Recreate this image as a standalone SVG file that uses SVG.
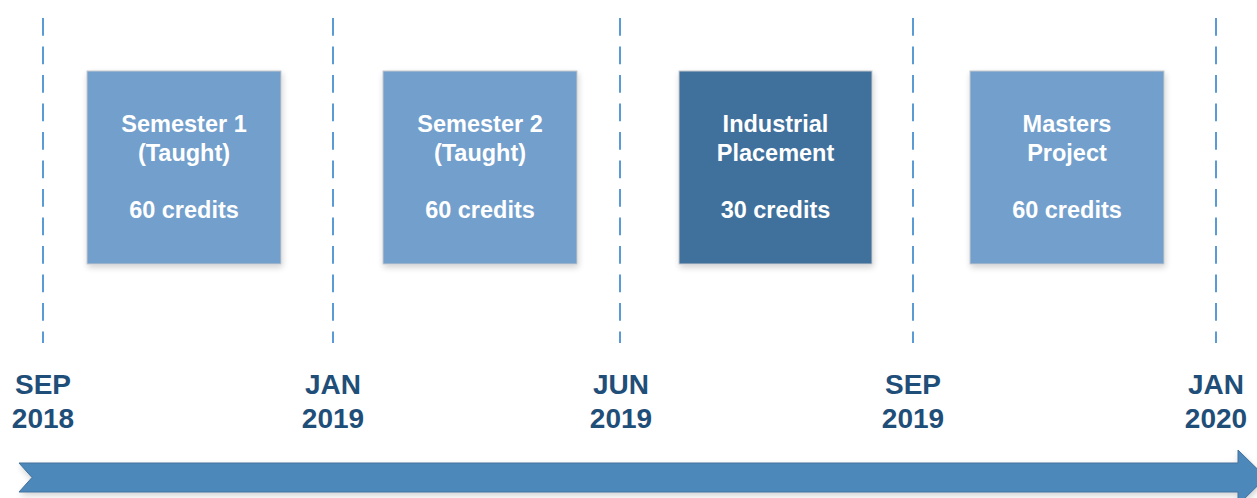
<svg xmlns="http://www.w3.org/2000/svg" width="1257" height="498" viewBox="0 0 1257 498">
<defs>
<filter id="sh" x="-10%" y="-10%" width="125%" height="125%">
<feGaussianBlur in="SourceAlpha" stdDeviation="3"/>
<feOffset dx="1" dy="3" result="b"/>
<feComponentTransfer><feFuncA type="linear" slope="0.18"/></feComponentTransfer>
<feMerge><feMergeNode/><feMergeNode in="SourceGraphic"/></feMerge>
</filter>
<style>
.dash{stroke:#5B9BD5;stroke-width:2;stroke-dasharray:17.7 10.8;fill:none}
.box{fill:#739FCC;stroke:#C4C8CC;stroke-width:1}
.dark{fill:#41709C}
.bt{font-family:"Liberation Sans",Arial,sans-serif;font-weight:bold;font-size:23.5px;fill:#FFFFFF;text-anchor:middle}
.lb{font-family:"Liberation Sans",Arial,sans-serif;font-weight:bold;font-size:28px;fill:#1F4E79;text-anchor:middle}
</style>
</defs>
<rect width="1257" height="498" fill="#FFFFFF"/>
<g id="gridlines">
<line class="dash" x1="43" y1="18" x2="43" y2="343"/>
<line class="dash" x1="333" y1="18" x2="333" y2="343"/>
<line class="dash" x1="620" y1="18" x2="620" y2="343"/>
<line class="dash" x1="913" y1="18" x2="913" y2="343"/>
<line class="dash" x1="1216" y1="18" x2="1216" y2="343"/>
</g>
<g id="sem1">
<rect class="box" x="87" y="71" width="194" height="193" filter="url(#sh)"/>
<text class="bt" x="184" y="132">Semester 1</text>
<text class="bt" x="184" y="161">(Taught)</text>
<text class="bt" x="184" y="218">60 credits</text>
</g>
<g id="sem2">
<rect class="box" x="383" y="71" width="194" height="193" filter="url(#sh)"/>
<text class="bt" x="480" y="132">Semester 2</text>
<text class="bt" x="480" y="161">(Taught)</text>
<text class="bt" x="480" y="218">60 credits</text>
</g>
<g id="placement">
<rect class="box dark" x="679" y="71" width="193" height="193" filter="url(#sh)"/>
<text class="bt" x="775.5" y="132">Industrial</text>
<text class="bt" x="775.5" y="161">Placement</text>
<text class="bt" x="775.5" y="218">30 credits</text>
</g>
<g id="project">
<rect class="box" x="970" y="71" width="194" height="193" filter="url(#sh)"/>
<text class="bt" x="1067" y="132">Masters</text>
<text class="bt" x="1067" y="161">Project</text>
<text class="bt" x="1067" y="218">60 credits</text>
</g>
<g id="labels">
<text class="lb" x="43" y="394">SEP</text>
<text class="lb" x="43" y="428">2018</text>
<text class="lb" x="333" y="394">JAN</text>
<text class="lb" x="333" y="428">2019</text>
<text class="lb" x="621" y="394">JUN</text>
<text class="lb" x="621" y="428">2019</text>
<text class="lb" x="913" y="394">SEP</text>
<text class="lb" x="913" y="428">2019</text>
<text class="lb" x="1216" y="394">JAN</text>
<text class="lb" x="1216" y="428">2020</text>
</g>
<g id="connectors">
<path d="M19,463 L1238,463 L1238,450 L1266,477.5 L1238,505 L1238,492 L19,492 L32,477.5 Z" fill="#4E88BB" stroke="#41719C" stroke-width="1" filter="url(#sh)"/>
</g>
</svg>
